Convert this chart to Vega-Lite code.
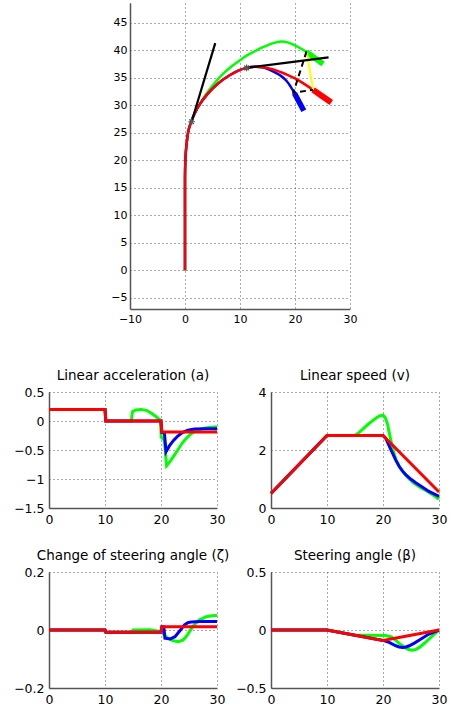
{
"$schema": "https://vega.github.io/schema/vega-lite/v6.json",
"padding": {"left": 13, "top": 3, "right": 5, "bottom": 5},
"datasets": {
"traj": [
{"s":"r","i":0,"x":0,"y":0},{"s":"r","i":1,"x":0,"y":10},{"s":"r","i":2,"x":0,"y":17},{"s":"r","i":3,"x":0.05,"y":19.5},{"s":"r","i":4,"x":0.15,"y":21.5},{"s":"r","i":5,"x":0.35,"y":23.5},{"s":"r","i":6,"x":0.65,"y":25.5},{"s":"r","i":7,"x":1.2,"y":27.2},{"s":"r","i":8,"x":1.8,"y":28.6},{"s":"r","i":9,"x":2.7,"y":30.2},{"s":"r","i":10,"x":3.9,"y":31.8},{"s":"r","i":11,"x":5.2,"y":33.2},{"s":"r","i":12,"x":6.7,"y":34.5},{"s":"r","i":13,"x":8.2,"y":35.5},{"s":"r","i":14,"x":9.7,"y":36.3},{"s":"r","i":15,"x":11.2,"y":36.8},{"s":"r","i":16,"x":12.7,"y":37.0},{"s":"r","i":17,"x":14.2,"y":36.9},{"s":"r","i":18,"x":15.7,"y":36.6},{"s":"r","i":19,"x":17.2,"y":36.1},{"s":"r","i":20,"x":18.7,"y":35.5},{"s":"r","i":21,"x":20.2,"y":34.8},{"s":"r","i":22,"x":21.8,"y":33.8},{"s":"r","i":23,"x":23.3,"y":32.8},
{"s":"rt","i":0,"x":23.3,"y":32.8},{"s":"rt","i":1,"x":24.9,"y":31.7},{"s":"rt","i":2,"x":26.6,"y":30.5},
{"s":"b","i":0,"x":0,"y":0},{"s":"b","i":1,"x":0,"y":10},{"s":"b","i":2,"x":0,"y":17},{"s":"b","i":3,"x":0.05,"y":19.5},{"s":"b","i":4,"x":0.15,"y":21.5},{"s":"b","i":5,"x":0.35,"y":23.5},{"s":"b","i":6,"x":0.65,"y":25.5},{"s":"b","i":7,"x":1.2,"y":27.2},{"s":"b","i":8,"x":1.8,"y":28.6},{"s":"b","i":9,"x":2.7,"y":30.2},{"s":"b","i":10,"x":3.9,"y":31.8},{"s":"b","i":11,"x":5.2,"y":33.2},{"s":"b","i":12,"x":6.7,"y":34.5},{"s":"b","i":13,"x":8.2,"y":35.5},{"s":"b","i":14,"x":9.7,"y":36.3},{"s":"b","i":15,"x":11.2,"y":36.8},{"s":"b","i":16,"x":12.7,"y":37.0},{"s":"b","i":17,"x":14.0,"y":36.9},{"s":"b","i":18,"x":15.3,"y":36.5},{"s":"b","i":19,"x":16.5,"y":35.9},{"s":"b","i":20,"x":17.5,"y":35.3},{"s":"b","i":21,"x":18.4,"y":34.5},{"s":"b","i":22,"x":19.2,"y":33.4},{"s":"b","i":23,"x":19.9,"y":32.2},
{"s":"bt","i":0,"x":19.9,"y":32.2},{"s":"bt","i":1,"x":20.75,"y":30.6},{"s":"bt","i":2,"x":21.6,"y":29.0},
{"s":"g","i":0,"x":0,"y":0},{"s":"g","i":1,"x":0,"y":10},{"s":"g","i":2,"x":0,"y":17},{"s":"g","i":3,"x":0.05,"y":19.5},{"s":"g","i":4,"x":0.15,"y":21.5},{"s":"g","i":5,"x":0.35,"y":23.5},{"s":"g","i":6,"x":0.65,"y":25.5},{"s":"g","i":7,"x":1.2,"y":27.2},{"s":"g","i":8,"x":1.8,"y":28.6},{"s":"g","i":9,"x":2.7,"y":30.2},{"s":"g","i":10,"x":3.5,"y":31.5},{"s":"g","i":11,"x":4.5,"y":32.9},{"s":"g","i":12,"x":5.7,"y":34.4},{"s":"g","i":13,"x":7.0,"y":35.8},{"s":"g","i":14,"x":8.5,"y":37.1},{"s":"g","i":15,"x":10.0,"y":38.2},{"s":"g","i":16,"x":11.5,"y":39.2},{"s":"g","i":17,"x":13.0,"y":40.0},{"s":"g","i":18,"x":14.5,"y":40.7},{"s":"g","i":19,"x":16.0,"y":41.3},{"s":"g","i":20,"x":17.5,"y":41.6},{"s":"g","i":21,"x":18.8,"y":41.4},{"s":"g","i":22,"x":20.0,"y":40.9},{"s":"g","i":23,"x":21.1,"y":40.3},{"s":"g","i":24,"x":22.1,"y":39.7},
{"s":"gt","i":0,"x":22.1,"y":39.7},{"s":"gt","i":1,"x":23.6,"y":38.6},{"s":"gt","i":2,"x":25.1,"y":37.5},
{"s":"k1","i":0,"x":1.2,"y":27.0},{"s":"k1","i":1,"x":5.5,"y":41.3},
{"s":"k2","i":0,"x":11.2,"y":36.8},{"s":"k2","i":1,"x":26.1,"y":38.7},
{"s":"yl","i":0,"x":22.1,"y":39.8},{"s":"yl","i":1,"x":23.3,"y":32.8},
{"s":"kd","i":0,"x":22.1,"y":39.8},{"s":"kd","i":1,"x":19.7,"y":32.3},{"s":"kd","i":2,"x":23.3,"y":32.8},
{"s":"st","i":0,"x":1.2,"y":27.0},{"s":"st","i":1,"x":11.2,"y":36.8}
],
"ts": [
{"p":"a","s":"r","t":0,"y":0.2},{"p":"a","s":"r","t":10,"y":0.2},{"p":"a","s":"r","t":10.15,"y":0},{"p":"a","s":"r","t":20,"y":0},{"p":"a","s":"r","t":20.15,"y":-0.19},{"p":"a","s":"r","t":30,"y":-0.19},
{"p":"a","s":"g","t":0,"y":0.2},{"p":"a","s":"g","t":10,"y":0.2},{"p":"a","s":"g","t":10.15,"y":0},{"p":"a","s":"g","t":14.7,"y":0},{"p":"a","s":"g","t":14.9,"y":0.16},{"p":"a","s":"g","t":15.5,"y":0.19},{"p":"a","s":"g","t":16.5,"y":0.2},{"p":"a","s":"g","t":17.5,"y":0.18},{"p":"a","s":"g","t":18.5,"y":0.12},{"p":"a","s":"g","t":19.3,"y":0.06},{"p":"a","s":"g","t":19.9,"y":0.01},{"p":"a","s":"g","t":20.05,"y":-0.28},{"p":"a","s":"g","t":20.6,"y":-0.33},{"p":"a","s":"g","t":21,"y":-0.77},{"p":"a","s":"g","t":21.6,"y":-0.7},{"p":"a","s":"g","t":22.3,"y":-0.6},{"p":"a","s":"g","t":23,"y":-0.5},{"p":"a","s":"g","t":23.8,"y":-0.38},{"p":"a","s":"g","t":24.6,"y":-0.29},{"p":"a","s":"g","t":25.5,"y":-0.21},{"p":"a","s":"g","t":26.5,"y":-0.16},{"p":"a","s":"g","t":27.5,"y":-0.13},{"p":"a","s":"g","t":28.5,"y":-0.11},{"p":"a","s":"g","t":30,"y":-0.1},
{"p":"a","s":"b","t":0,"y":0.2},{"p":"a","s":"b","t":10,"y":0.2},{"p":"a","s":"b","t":10.15,"y":0},{"p":"a","s":"b","t":20,"y":0},{"p":"a","s":"b","t":20.15,"y":-0.2},{"p":"a","s":"b","t":20.6,"y":-0.2},{"p":"a","s":"b","t":20.9,"y":-0.53},{"p":"a","s":"b","t":21.5,"y":-0.43},{"p":"a","s":"b","t":22.2,"y":-0.34},{"p":"a","s":"b","t":23,"y":-0.26},{"p":"a","s":"b","t":23.8,"y":-0.2},{"p":"a","s":"b","t":24.8,"y":-0.16},{"p":"a","s":"b","t":26,"y":-0.14},{"p":"a","s":"b","t":28,"y":-0.135},{"p":"a","s":"b","t":30,"y":-0.135},
{"p":"v","s":"r","t":0,"y":0.5},{"p":"v","s":"r","t":10,"y":2.5},{"p":"v","s":"r","t":20,"y":2.5},{"p":"v","s":"r","t":30,"y":0.55},
{"p":"v","s":"g","t":0,"y":0.5},{"p":"v","s":"g","t":10,"y":2.5},{"p":"v","s":"g","t":15,"y":2.5},{"p":"v","s":"g","t":15.7,"y":2.6},{"p":"v","s":"g","t":16.4,"y":2.72},{"p":"v","s":"g","t":17.3,"y":2.88},{"p":"v","s":"g","t":18.2,"y":3.02},{"p":"v","s":"g","t":18.9,"y":3.12},{"p":"v","s":"g","t":19.5,"y":3.18},{"p":"v","s":"g","t":20,"y":3.2},{"p":"v","s":"g","t":20.4,"y":3.12},{"p":"v","s":"g","t":20.8,"y":2.9},{"p":"v","s":"g","t":21.2,"y":2.52},{"p":"v","s":"g","t":21.7,"y":2.06},{"p":"v","s":"g","t":22.3,"y":1.68},{"p":"v","s":"g","t":22.9,"y":1.44},{"p":"v","s":"g","t":23.6,"y":1.24},{"p":"v","s":"g","t":24.5,"y":1.04},{"p":"v","s":"g","t":25.5,"y":0.86},{"p":"v","s":"g","t":26.6,"y":0.72},{"p":"v","s":"g","t":27.8,"y":0.59},{"p":"v","s":"g","t":29,"y":0.44},{"p":"v","s":"g","t":30,"y":0.3},
{"p":"v","s":"b","t":0,"y":0.5},{"p":"v","s":"b","t":10,"y":2.5},{"p":"v","s":"b","t":20,"y":2.5},{"p":"v","s":"b","t":20.5,"y":2.4},{"p":"v","s":"b","t":20.9,"y":2.23},{"p":"v","s":"b","t":21.3,"y":2.06},{"p":"v","s":"b","t":21.7,"y":1.89},{"p":"v","s":"b","t":22.3,"y":1.64},{"p":"v","s":"b","t":22.9,"y":1.43},{"p":"v","s":"b","t":23.5,"y":1.27},{"p":"v","s":"b","t":24.1,"y":1.14},{"p":"v","s":"b","t":25,"y":0.99},{"p":"v","s":"b","t":25.9,"y":0.86},{"p":"v","s":"b","t":27,"y":0.72},{"p":"v","s":"b","t":28.2,"y":0.57},{"p":"v","s":"b","t":30,"y":0.4},
{"p":"z","s":"r","t":0,"y":0},{"p":"z","s":"r","t":10,"y":0},{"p":"z","s":"r","t":10.15,"y":-0.008},{"p":"z","s":"r","t":20,"y":-0.008},{"p":"z","s":"r","t":20.15,"y":0.011},{"p":"z","s":"r","t":30,"y":0.011},
{"p":"z","s":"g","t":0,"y":0},{"p":"z","s":"g","t":10,"y":0},{"p":"z","s":"g","t":10.15,"y":-0.008},{"p":"z","s":"g","t":14.8,"y":-0.008},{"p":"z","s":"g","t":15,"y":0.0},{"p":"z","s":"g","t":18,"y":0.001},{"p":"z","s":"g","t":19.3,"y":-0.003},{"p":"z","s":"g","t":20,"y":-0.005},{"p":"z","s":"g","t":20.5,"y":-0.015},{"p":"z","s":"g","t":21,"y":-0.025},{"p":"z","s":"g","t":21.6,"y":-0.032},{"p":"z","s":"g","t":22.2,"y":-0.037},{"p":"z","s":"g","t":23.1,"y":-0.04},{"p":"z","s":"g","t":23.9,"y":-0.035},{"p":"z","s":"g","t":24.4,"y":-0.025},{"p":"z","s":"g","t":24.8,"y":-0.014},{"p":"z","s":"g","t":25.7,"y":0.012},{"p":"z","s":"g","t":26.3,"y":0.025},{"p":"z","s":"g","t":26.9,"y":0.035},{"p":"z","s":"g","t":28.1,"y":0.046},{"p":"z","s":"g","t":29,"y":0.049},{"p":"z","s":"g","t":30,"y":0.05},
{"p":"z","s":"b","t":0,"y":0},{"p":"z","s":"b","t":10,"y":0},{"p":"z","s":"b","t":10.15,"y":-0.008},{"p":"z","s":"b","t":20,"y":-0.008},{"p":"z","s":"b","t":20.15,"y":0.011},{"p":"z","s":"b","t":20.5,"y":0.011},{"p":"z","s":"b","t":20.7,"y":-0.028},{"p":"z","s":"b","t":21.6,"y":-0.031},{"p":"z","s":"b","t":22.5,"y":-0.023},{"p":"z","s":"b","t":23.4,"y":-0.002},{"p":"z","s":"b","t":24.2,"y":0.018},{"p":"z","s":"b","t":24.8,"y":0.025},{"p":"z","s":"b","t":25.4,"y":0.028},{"p":"z","s":"b","t":26.9,"y":0.029},{"p":"z","s":"b","t":30,"y":0.029},
{"p":"bt","s":"r","t":0,"y":0},{"p":"bt","s":"r","t":10,"y":0},{"p":"bt","s":"r","t":20,"y":-0.09},{"p":"bt","s":"r","t":30,"y":0},
{"p":"bt","s":"g","t":0,"y":0},{"p":"bt","s":"g","t":10,"y":0},{"p":"bt","s":"g","t":15,"y":-0.046},{"p":"bt","s":"g","t":17,"y":-0.046},{"p":"bt","s":"g","t":20.5,"y":-0.048},{"p":"bt","s":"g","t":21.5,"y":-0.06},{"p":"bt","s":"g","t":22.3,"y":-0.09},{"p":"bt","s":"g","t":23,"y":-0.12},{"p":"bt","s":"g","t":24.1,"y":-0.156},{"p":"bt","s":"g","t":24.7,"y":-0.17},{"p":"bt","s":"g","t":25.3,"y":-0.175},{"p":"bt","s":"g","t":25.9,"y":-0.167},{"p":"bt","s":"g","t":26.5,"y":-0.15},{"p":"bt","s":"g","t":27.5,"y":-0.11},{"p":"bt","s":"g","t":28.2,"y":-0.078},{"p":"bt","s":"g","t":29.1,"y":-0.038},{"p":"bt","s":"g","t":30,"y":0},
{"p":"bt","s":"b","t":0,"y":0},{"p":"bt","s":"b","t":10,"y":0},{"p":"bt","s":"b","t":20,"y":-0.09},{"p":"bt","s":"b","t":21.1,"y":-0.107},{"p":"bt","s":"b","t":22.3,"y":-0.136},{"p":"bt","s":"b","t":22.9,"y":-0.146},{"p":"bt","s":"b","t":23.5,"y":-0.15},{"p":"bt","s":"b","t":24.1,"y":-0.146},{"p":"bt","s":"b","t":24.7,"y":-0.136},{"p":"bt","s":"b","t":25.6,"y":-0.113},{"p":"bt","s":"b","t":26.5,"y":-0.087},{"p":"bt","s":"b","t":28.2,"y":-0.035},{"p":"bt","s":"b","t":30,"y":0}
]
},
"vconcat": [
{
"width": 301, "height": 306,
"data": {"name": "traj"},
"encoding": {
"x": {"field": "x", "type": "quantitative", "scale": {"domain": [-10, 30], "range": [81, 301], "nice": false, "zero": false}, "axis": {"values": [-10, 0, 10, 20, 30], "labelFontSize": 11, "labelPadding": 4}},
"y": {"field": "y", "type": "quantitative", "scale": {"domain": [-7.05, 48.6], "nice": false, "zero": false}, "axis": {"values": [-5, 0, 5, 10, 15, 20, 25, 30, 35, 40, 45], "labelFontSize": 11, "labelPadding": 3, "offset": -81}},
"order": {"field": "i", "type": "quantitative"}
},
"layer": [
{"transform": [{"filter": "datum.s == 'g'"}], "mark": {"type": "line", "color": "#00ff00", "strokeWidth": 2.5, "interpolate": "catmull-rom"}},
{"transform": [{"filter": "datum.s == 'gt'"}], "mark": {"type": "line", "color": "#00ff00", "strokeWidth": 5.5}},
{"transform": [{"filter": "datum.s == 'b'"}], "mark": {"type": "line", "color": "#0000ff", "strokeWidth": 2.5, "interpolate": "catmull-rom"}},
{"transform": [{"filter": "datum.s == 'bt'"}], "mark": {"type": "line", "color": "#0000ff", "strokeWidth": 5.5}},
{"transform": [{"filter": "datum.s == 'r'"}], "mark": {"type": "line", "color": "#ff0000", "strokeWidth": 2.5, "interpolate": "catmull-rom"}},
{"transform": [{"filter": "datum.s == 'rt'"}], "mark": {"type": "line", "color": "#ff0000", "strokeWidth": 6}},
{"transform": [{"filter": "datum.s == 'yl'"}], "mark": {"type": "line", "color": "#ffff00", "strokeWidth": 2}},
{"transform": [{"filter": "datum.s == 'k1' || datum.s == 'k2'"}], "mark": {"type": "line", "color": "#000000", "strokeWidth": 2.2}, "encoding": {"detail": {"field": "s"}}},
{"transform": [{"filter": "datum.s == 'kd'"}], "mark": {"type": "line", "color": "#000000", "strokeWidth": 2, "strokeDash": [6, 4]}},
{"transform": [{"filter": "datum.s == 'st'"}], "mark": {"type": "point", "shape": "M-1,0H1M0,-1V1M-0.7,-0.7L0.7,0.7M-0.7,0.7L0.7,-0.7", "filled": false, "stroke": "#555555", "strokeWidth": 1.2, "size": 45, "opacity": 1}}
]
},
{
"concat": [
{
"title": "Linear acceleration (a)",
"width": 168, "height": 116,
"data": {"name": "ts"},
"transform": [{"filter": "datum.p == 'a'"}],
"encoding": {
"x": {"field": "t", "type": "quantitative", "scale": {"domain": [0, 30], "nice": false}, "axis": {"values": [0, 10, 20, 30]}},
"y": {"field": "y", "type": "quantitative", "scale": {"domain": [-1.5, 0.5], "nice": false, "zero": false}, "axis": {"values": [-1.5, -1, -0.5, 0, 0.5], "format": "~g"}}
},
"layer": [
{"transform": [{"filter": "datum.s == 'g'"}], "mark": {"type": "line", "color": "#00ff00", "strokeWidth": 3}},
{"transform": [{"filter": "datum.s == 'b'"}], "mark": {"type": "line", "color": "#0000ff", "strokeWidth": 3}},
{"transform": [{"filter": "datum.s == 'r'"}], "mark": {"type": "line", "color": "#ff0000", "strokeWidth": 3}}
]
},
{
"title": "Linear speed (v)",
"width": 168, "height": 116,
"data": {"name": "ts"},
"transform": [{"filter": "datum.p == 'v'"}],
"encoding": {
"x": {"field": "t", "type": "quantitative", "scale": {"domain": [0, 30], "nice": false}, "axis": {"values": [0, 10, 20, 30]}},
"y": {"field": "y", "type": "quantitative", "scale": {"domain": [0, 4], "nice": false, "zero": false}, "axis": {"values": [0, 2, 4], "format": "~g"}}
},
"layer": [
{"transform": [{"filter": "datum.s == 'g'"}], "mark": {"type": "line", "color": "#00ff00", "strokeWidth": 3}},
{"transform": [{"filter": "datum.s == 'b'"}], "mark": {"type": "line", "color": "#0000ff", "strokeWidth": 3}},
{"transform": [{"filter": "datum.s == 'r'"}], "mark": {"type": "line", "color": "#ff0000", "strokeWidth": 3}}
]
},
{
"title": "Change of steering angle (ζ)",
"width": 168, "height": 116,
"data": {"name": "ts"},
"transform": [{"filter": "datum.p == 'z'"}],
"encoding": {
"x": {"field": "t", "type": "quantitative", "scale": {"domain": [0, 30], "nice": false}, "axis": {"values": [0, 10, 20, 30]}},
"y": {"field": "y", "type": "quantitative", "scale": {"domain": [-0.2, 0.2], "nice": false, "zero": false}, "axis": {"values": [-0.2, 0, 0.2], "format": "~g"}}
},
"layer": [
{"transform": [{"filter": "datum.s == 'g'"}], "mark": {"type": "line", "color": "#00ff00", "strokeWidth": 3}},
{"transform": [{"filter": "datum.s == 'b'"}], "mark": {"type": "line", "color": "#0000ff", "strokeWidth": 3}},
{"transform": [{"filter": "datum.s == 'r'"}], "mark": {"type": "line", "color": "#ff0000", "strokeWidth": 3}}
]
},
{
"title": "Steering angle (β)",
"width": 168, "height": 116,
"data": {"name": "ts"},
"transform": [{"filter": "datum.p == 'bt'"}],
"encoding": {
"x": {"field": "t", "type": "quantitative", "scale": {"domain": [0, 30], "nice": false}, "axis": {"values": [0, 10, 20, 30]}},
"y": {"field": "y", "type": "quantitative", "scale": {"domain": [-0.5, 0.5], "nice": false, "zero": false}, "axis": {"values": [-0.5, 0, 0.5], "format": "~g"}}
},
"layer": [
{"transform": [{"filter": "datum.s == 'g'"}], "mark": {"type": "line", "color": "#00ff00", "strokeWidth": 3}},
{"transform": [{"filter": "datum.s == 'b'"}], "mark": {"type": "line", "color": "#0000ff", "strokeWidth": 3}},
{"transform": [{"filter": "datum.s == 'r'"}], "mark": {"type": "line", "color": "#ff0000", "strokeWidth": 3}}
]
}
],
"columns": 2,
"spacing": {"row": 64, "column": 54},
"bounds": "flush"
}
],
"spacing": 83,
"bounds": "flush",
"config": {
"view": {"stroke": null},
"font": "DejaVu Sans",
"axis": {"domainColor": "#555555", "domainWidth": 1.5, "grid": true, "gridColor": "#555555", "gridDash": [1, 3], "gridWidth": 1, "ticks": false, "labelFont": "DejaVu Sans", "labelFontSize": 12.5, "labelColor": "#000000", "title": null, "labelPadding": 5, "labelFlush": false, "labelOverlap": false},
"title": {"font": "DejaVu Sans", "fontSize": 13.5, "fontWeight": "normal", "color": "#000000", "offset": 4, "frame": "group", "anchor": "middle"}
}
}
